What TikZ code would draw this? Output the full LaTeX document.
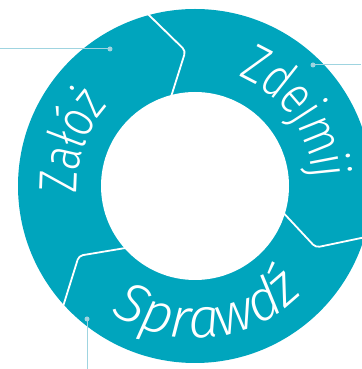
\documentclass[tikz,border=0pt]{standalone}
\usepackage{fontspec}
\usepackage{xcolor}
\usepackage{tikz}
\usetikzlibrary{decorations.text}
\newfontfamily\ringfont{Fira Sans}[UprightFont=* Light, FakeStretch=0.8]
\newfontfamily\ringfontit{Fira Sans}[UprightFont=* Light Italic]
\definecolor{ringteal}{HTML}{00A5BD}
\definecolor{leader}{HTML}{9FD4E0}
\newcommand\ringtext{\ringfont\fontsize{54}{54}\selectfont\color{white}\kern-1.5pt}
\newcommand\ringtextit{\ringfontit\fontsize{56}{56}\selectfont\color{white}}
\tikzset{
  ring/.style={fill=ringteal},
  hole/.style={fill=white},
  divider/.style={draw=white,line width=1.8pt,rounded corners=4pt},
  leaderline/.style={draw=leader,line width=1pt},
  leaderdot/.style={fill=leader},
  arctext/.style={decorate,decoration={text along path,text={|\ringtext|#1},text align=center}},
  arctextit/.style={decorate,decoration={text along path,text={|\ringtextit|#1},text align=center}}
}

\begin{document}
\begin{tikzpicture}[x=1pt,y=1pt]
  \useasboundingbox (0,0) rectangle (361,369);
  \coordinate (center) at (195,183);

  \begin{scope}[shift={(center)}]
    % ring
    \path[ring] (0,0) circle (177);
    \path[hole] (0,0) circle (94);
    % chevron dividers
    \foreach \a/\b in {106/94,-16/-27,-137/-149} {\draw[divider] (\a:182) -- (\b:135.5) -- (\a:90);}
    % labels on the ring
    \path[arctext=Załóż] (215:118) arc[start angle=215,end angle=105,radius=118];
    \path[arctext=Zdejmij] (93:118) arc[start angle=93,end angle=-22,radius=118];
    \path[arctextit=Sprawdź] (-140:152) arc[start angle=-140,end angle=-28,radius=152];
  \end{scope}

  % leader lines
  \coordinate (dotput) at (110,320);  \coordinate (endput) at (0,320);
  \coordinate (dottake) at (313,304); \coordinate (endtake) at (361,304);
  \coordinate (dotcheck) at (87,50);  \coordinate (endcheck) at (87,0);
  \foreach \n in {put,take,check} {
    \draw[leaderline] (dot\n) -- (end\n);
    \fill[leaderdot] (dot\n) circle (2.5);
  }
\end{tikzpicture}
\end{document}
